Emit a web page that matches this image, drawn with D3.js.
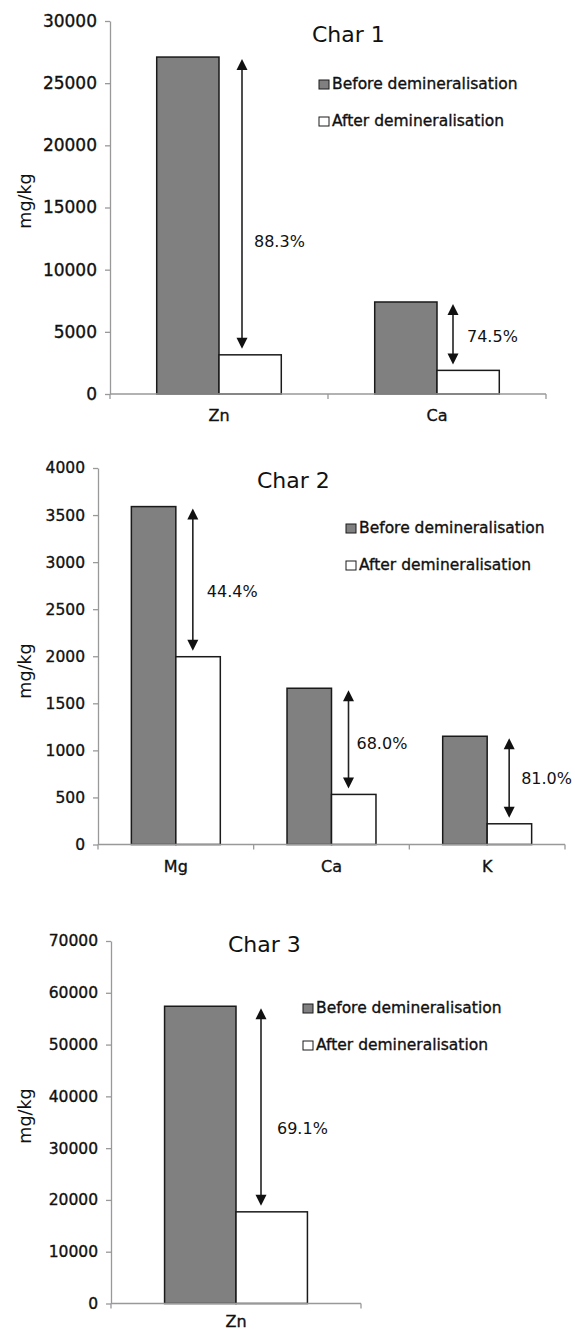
<!DOCTYPE html>
<html lang="en">
<head>
    <meta charset="UTF-8">
    <title>Demineralisation charts</title>
    <script src="https://d3js.org/d3.v7.min.js"></script>
    <style>
        body, html {
            margin: 0;
            padding: 0;
            background-color: #fff;
        }
        svg {
            display: block;
            font-family: 'DejaVu Sans', sans-serif;
        }
        .heavy {
            stroke: #111;
            stroke-width: 0.35px;
        }
    </style>
</head>
<body>
    <svg width="575" height="1332"></svg>

    <script>
        // series names (legend)
        const seriesNames = ['Before demineralisation', 'After demineralisation'];

        // Char 1
        const chart1Cats = ['Zn', 'Ca'];
        const chart1Before = [27100, 7400];
        const chart1After = [3150, 1900];
        const chart1Pct = ['88.3%', '74.5%'];
        const chart1Ticks = [0, 5000, 10000, 15000, 20000, 25000, 30000];

        // Char 2
        const chart2Cats = ['Mg', 'Ca', 'K'];
        const chart2Before = [3590, 1660, 1150];
        const chart2After = [1995, 532, 220];
        const chart2Pct = ['44.4%', '68.0%', '81.0%'];
        const chart2Ticks = [0, 500, 1000, 1500, 2000, 2500, 3000, 3500, 4000];

        // Char 3
        const chart3Cats = ['Zn'];
        const chart3Before = [57400];
        const chart3After = [17700];
        const chart3Pct = ['69.1%'];
        const chart3Ticks = [0, 10000, 20000, 30000, 40000, 50000, 60000, 70000];

        const svg = d3.select('svg');
        const barFill = ['#808080', '#ffffff'];

        // layout of each panel (pixel positions, not data)
        const charts = [
            {
                title: 'Char 1', cats: chart1Cats, before: chart1Before, after: chart1After,
                pct: chart1Pct, ticks: chart1Ticks,
                x0: 110, x1: 546, yTop: 21, yBase: 394, tickFont: 17, catDy: 27,
                titleX: 312, titleY: 42, legX: 319, legY: 89, yLabY: 201,
                arrowDx: [23, 16], pctDx: [12, 14], pctDy: [43, 8]
            },
            {
                title: 'Char 2', cats: chart2Cats, before: chart2Before, after: chart2After,
                pct: chart2Pct, ticks: chart2Ticks,
                x0: 98, x1: 565, yTop: 468, yBase: 844.5, tickFont: 15.5, catDy: 27,
                titleX: 257, titleY: 488, legX: 346, legY: 533, yLabY: 671,
                arrowDx: [17, 17, 22], pctDx: [14, 8, 12], pctDy: [17, 10, 6]
            },
            {
                title: 'Char 3', cats: chart3Cats, before: chart3Before, after: chart3After,
                pct: chart3Pct, ticks: chart3Ticks,
                x0: 111, x1: 361, yTop: 941, yBase: 1303.5, tickFont: 15.5, catDy: 23,
                titleX: 228, titleY: 952, legX: 303, legY: 1013, yLabY: 1116,
                arrowDx: [25], pctDx: [16], pctDy: [27]
            }
        ];

        charts.forEach(c => {
            const g = svg.append('g');

            const x = d3.scaleBand()
                .domain(c.cats)
                .range([c.x0, c.x1]);

            const xSub = d3.scaleBand()
                .domain([0, 1])
                .range([0, x.bandwidth()])
                .paddingOuter(0.75);

            const y = d3.scaleLinear()
                .domain([0, d3.max(c.ticks)])
                .range([c.yBase, c.yTop]);

            // y axis
            const yAxis = g.append('g')
                .attr('transform', `translate(${c.x0},0)`)
                .call(d3.axisLeft(y).tickValues(c.ticks).tickFormat(d3.format('d'))
                    .tickSizeInner(5).tickSizeOuter(0).tickPadding(8));
            yAxis.selectAll('path, line').attr('stroke', '#999').attr('stroke-width', 1.3);
            yAxis.selectAll('text')
                .attr('class', 'heavy')
                .attr('font-size', c.tickFont)
                .attr('font-family', "'DejaVu Sans', sans-serif")
                .attr('fill', '#111');

            // y axis title
            g.append('text')
                .attr('transform', `translate(31,${c.yLabY}) rotate(-90)`)
                .attr('text-anchor', 'middle')
                .attr('font-size', 17.5)
                .attr('fill', '#111')
                .text('mg/kg');

            // bars
            const rows = c.cats.map((cat, i) => ({ cat, i, vals: [c.before[i], c.after[i]] }));
            rows.forEach(r => {
                g.selectAll(null)
                    .data(r.vals)
                    .join('rect')
                    .attr('x', (d, k) => x(r.cat) + xSub(k))
                    .attr('y', d => y(d))
                    .attr('width', xSub.bandwidth())
                    .attr('height', d => y(0) - y(d))
                    .attr('fill', (d, k) => barFill[k])
                    .attr('stroke', '#1a1a1a')
                    .attr('stroke-width', 1.5);
            });

            // x axis line + ticks between categories
            g.append('line')
                .attr('x1', c.x0).attr('x2', c.x1)
                .attr('y1', y(0)).attr('y2', y(0))
                .attr('stroke', '#999').attr('stroke-width', 1.3);
            const bounds = c.cats.map(d => x(d)).concat([c.x1]);
            g.selectAll(null)
                .data(bounds)
                .join('line')
                .attr('x1', d => d).attr('x2', d => d)
                .attr('y1', y(0)).attr('y2', y(0) + 5)
                .attr('stroke', '#999').attr('stroke-width', 1.3);

            g.selectAll(null)
                .data(c.cats)
                .join('text')
                .attr('class', 'heavy')
                .attr('x', d => x(d) + x.bandwidth() / 2)
                .attr('y', y(0) + c.catDy)
                .attr('text-anchor', 'middle')
                .attr('font-size', 16)
                .attr('fill', '#111')
                .text(d => d);

            // double arrows with reduction %
            rows.forEach(r => {
                const ax = x(r.cat) + xSub(1) + c.arrowDx[r.i];
                const top = y(r.vals[0]) + 2;
                const bot = y(r.vals[1]) - 6;
                const hw = 5.5, hh = 11;
                g.append('line')
                    .attr('x1', ax).attr('x2', ax)
                    .attr('y1', top + hh - 1).attr('y2', bot - hh + 1)
                    .attr('stroke', '#222').attr('stroke-width', 1.6);
                g.append('path')
                    .attr('d', `M${ax},${top} L${ax - hw},${top + hh} L${ax + hw},${top + hh} Z`)
                    .attr('fill', '#111');
                g.append('path')
                    .attr('d', `M${ax},${bot} L${ax - hw},${bot - hh} L${ax + hw},${bot - hh} Z`)
                    .attr('fill', '#111');
                g.append('text')
                    .attr('x', ax + c.pctDx[r.i])
                    .attr('y', (top + bot) / 2 + c.pctDy[r.i])
                    .attr('font-size', 16)
                    .attr('fill', '#111')
                    .text(c.pct[r.i]);
            });

            // title
            g.append('text')
                .attr('x', c.titleX)
                .attr('y', c.titleY)
                .attr('font-size', 22)
                .attr('fill', '#111')
                .text(c.title);

            // legend
            const leg = g.append('g')
                .attr('transform', `translate(${c.legX},${c.legY})`);
            seriesNames.forEach((name, k) => {
                leg.append('rect')
                    .attr('x', 0).attr('y', k * 37 - 9)
                    .attr('width', 10).attr('height', 9)
                    .attr('fill', barFill[k])
                    .attr('stroke', '#1a1a1a').attr('stroke-width', 1);
                leg.append('text')
                    .attr('class', 'heavy')
                    .attr('x', 13).attr('y', k * 37)
                    .attr('font-size', 15.5)
                    .attr('fill', '#111')
                    .text(name);
            });
        });
    </script>
</body>
</html>
